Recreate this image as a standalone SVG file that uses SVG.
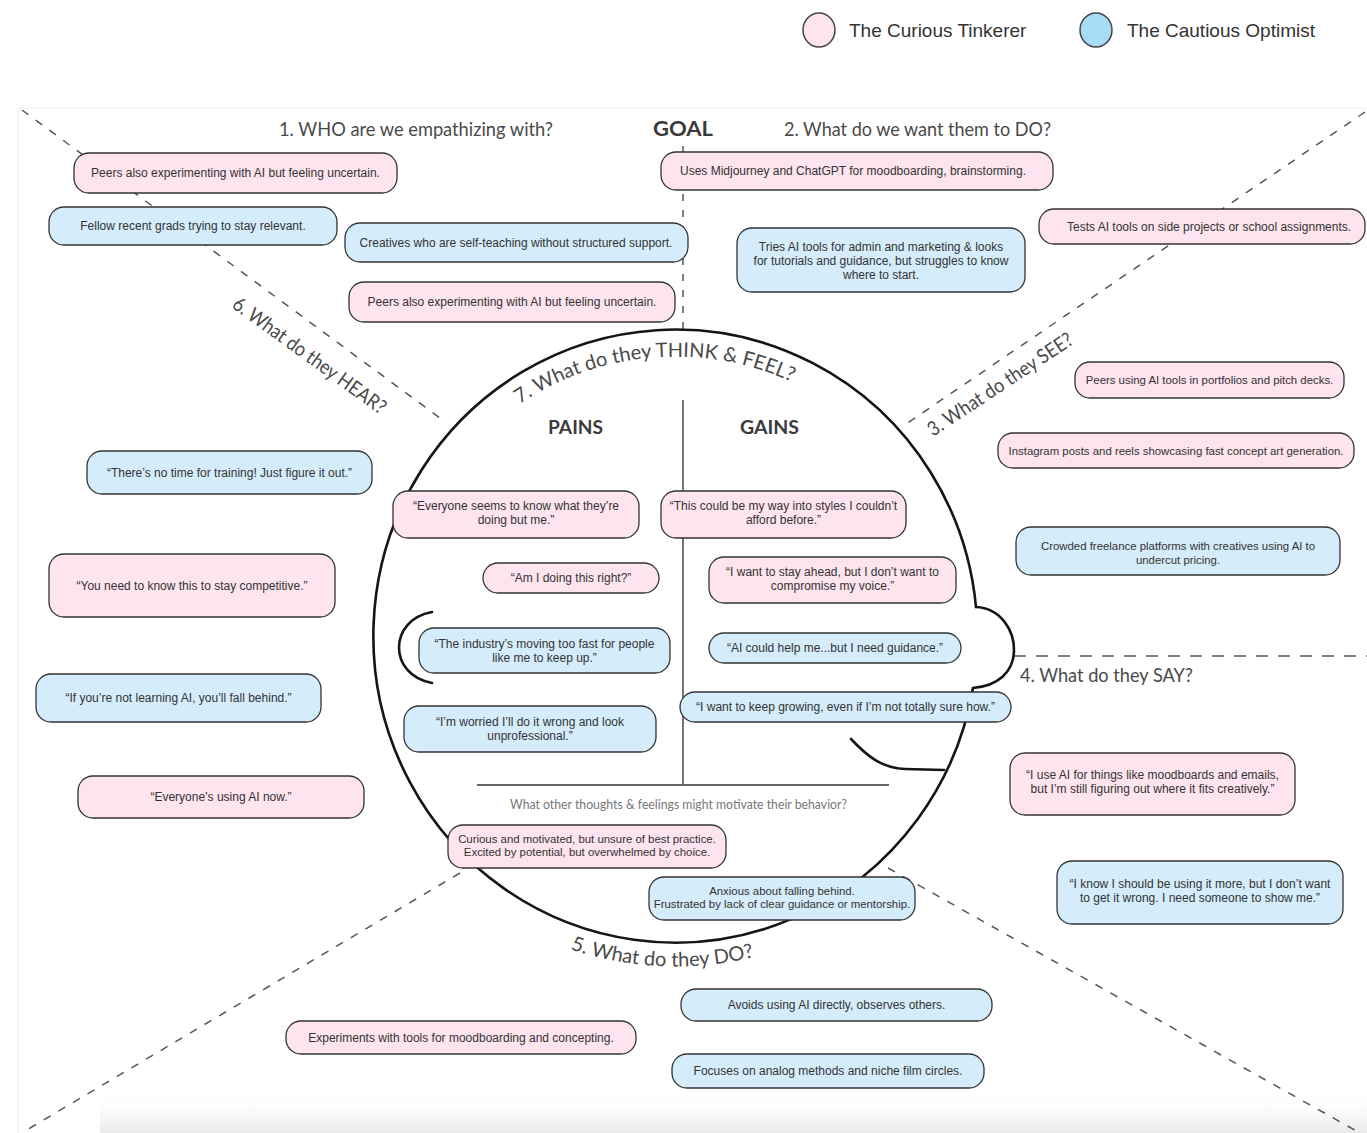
<svg xmlns="http://www.w3.org/2000/svg" width="1367" height="1133" viewBox="0 0 1367 1133">
  <defs>
    <style>
      .pink { fill: #fde4ee; stroke: #333; stroke-width: 1.3; }
      .blue { fill: #d5ecfa; stroke: #333; stroke-width: 1.3; }
      .bt { font-family: "Liberation Sans", Arial, sans-serif; font-size: 12px; fill: #333; text-anchor: middle; }
      .sm { font-size: 11.4px; }
      .hd { font-family: Lato, "Liberation Sans", sans-serif; font-size: 20px; fill: #4a4a4a; }
      .hb { font-family: Lato, "Liberation Sans", sans-serif; font-weight: bold; fill: #3a3a3a; }
      .dash { fill: none; stroke: #555; stroke-width: 1.5; stroke-dasharray: 8 9; }
      .outline { fill: none; stroke: #151515; stroke-width: 2.6; stroke-linecap: round; }
      .legend { font-family: "Liberation Sans", Arial, sans-serif; font-size: 19px; fill: #333; }
    </style>
    <linearGradient id="floorShade" x1="0" y1="0" x2="0" y2="1">
      <stop offset="0" stop-color="#ffffff" stop-opacity="0"/>
      <stop offset="1" stop-color="#e9e9e9" stop-opacity="1"/>
    </linearGradient>
    <path id="arcThink" d="M422.5,516.6 A280,280 0 0 1 905.8,477.3"/>
    <path id="arcDo" d="M383.1,789.4 A330,330 0 0 0 954.1,813.3"/>
  </defs>

  <!-- board -->
  <rect x="0" y="0" width="1367" height="1133" fill="#ffffff"/>
  <rect x="18" y="108" width="1365" height="1040" fill="none" stroke="#f4f4f4" stroke-width="1.5"/>
  <rect x="100" y="1092" width="1267" height="41" fill="url(#floorShade)"/>

  <!-- legend -->
  <g id="legend">
    <ellipse cx="819" cy="30" rx="16" ry="17" fill="#fde4ee" stroke="#444" stroke-width="1.5"/>
    <text class="legend" x="849" y="37">The Curious Tinkerer</text>
    <ellipse cx="1096" cy="30" rx="16" ry="17" fill="#a8dcf6" stroke="#444" stroke-width="1.5"/>
    <text class="legend" x="1127" y="37">The Cautious Optimist</text>
  </g>

  <!-- quadrant guides -->
  <g id="connectors">
    <line class="dash" x1="22" y1="110" x2="445" y2="421.7"/>
    <line class="dash" x1="1365" y1="112" x2="906" y2="424"/>
    <line class="dash" x1="1014" y1="656" x2="1367" y2="656" style="stroke-dasharray: 12 10"/>
    <line class="dash" x1="888" y1="868" x2="1360" y2="1133"/>
    <line class="dash" x1="460" y1="873" x2="25" y2="1131"/>
    <line class="dash" x1="683" y1="146" x2="683" y2="330" style="stroke-dasharray: 7 9"/>
  </g>

  <!-- head -->
  <g id="head">
    <path class="outline" d="M976,607 A302,306.5 0 1 0 973,688"/>
    <path class="outline" d="M976,607 C1000,608 1015,630 1014,652 C1013,672 998,686 973,688"/>
    <path class="outline" d="M851,739 C868,757 882,768 905,769 L944,770"/>
    <path class="outline" d="M432,612 C388,620 388,675 432,683"/>
    <line x1="683" y1="400" x2="683" y2="785" stroke="#777" stroke-width="2"/>
    <line x1="477" y1="785" x2="889" y2="785" stroke="#666" stroke-width="2"/>
  </g>

  <!-- section headings -->
  <g id="headings">
    <text class="hd" x="279" y="136" textLength="274" lengthAdjust="spacingAndGlyphs">1. WHO are we empathizing with?</text>
    <text class="hb" x="653" y="136" font-size="20" textLength="60" lengthAdjust="spacingAndGlyphs">GOAL</text>
    <text class="hd" x="784" y="136" textLength="267" lengthAdjust="spacingAndGlyphs">2. What do we want them to DO?</text>
    <text class="hd" transform="translate(933,437) rotate(-33.5)" textLength="170" lengthAdjust="spacingAndGlyphs">3. What do they SEE?</text>
    <text class="hd" x="1020" y="682" textLength="173" lengthAdjust="spacingAndGlyphs">4. What do they SAY?</text>
    <text class="hd"><textPath href="#arcDo" startOffset="50%" text-anchor="middle">5. What do they DO?</textPath></text>
    <text class="hd" transform="translate(231,307) rotate(35.9)" textLength="184" lengthAdjust="spacingAndGlyphs">6. What do they HEAR?</text>
    <text class="hd"><textPath href="#arcThink" startOffset="50%" text-anchor="middle">7. What do they THINK &amp; FEEL?</textPath></text>
    <text class="hb" x="548" y="434" font-size="19" textLength="55" lengthAdjust="spacingAndGlyphs">PAINS</text>
    <text class="hb" x="740" y="434" font-size="19" textLength="59" lengthAdjust="spacingAndGlyphs">GAINS</text>
    <text class="hd" x="510" y="809" style="font-size:13.5px; fill:#777" textLength="337" lengthAdjust="spacingAndGlyphs">What other thoughts &amp; feelings might motivate their behavior?</text>
  </g>

  <!-- 1. WHO -->
  <g id="who-peers-1"><rect class="pink" x="74" y="153" width="323" height="40" rx="15"/><text class="bt" x="235.5" y="177">Peers also experimenting with AI but feeling uncertain.</text></g>
  <g id="who-grads"><rect class="blue" x="49" y="207" width="288" height="38" rx="15"/><text class="bt" x="193" y="230">Fellow recent grads trying to stay relevant.</text></g>
  <g id="who-creatives"><rect class="blue" x="345" y="223" width="343" height="39" rx="15"/><text class="bt" x="516" y="246.5">Creatives who are self-teaching without structured support.</text></g>
  <g id="who-peers-2"><rect class="pink" x="349" y="282" width="326" height="40" rx="15"/><text class="bt" x="512" y="306">Peers also experimenting with AI but feeling uncertain.</text></g>

  <!-- 2. GOAL -->
  <g id="goal-midjourney"><rect class="pink" x="661" y="152" width="392" height="38" rx="15"/><text class="bt" x="853" y="175">Uses Midjourney and ChatGPT for moodboarding, brainstorming.</text></g>
  <g id="goal-tries"><rect class="blue" x="737" y="228" width="288" height="64" rx="15"/><text class="bt" x="881" y="251">Tries AI tools for admin and marketing &amp; looks<tspan x="881" dy="14">for tutorials and guidance, but struggles to know</tspan><tspan x="881" dy="14">where to start.</tspan></text></g>
  <g id="goal-tests"><rect class="pink" x="1039" y="209" width="326" height="35" rx="15"/><text class="bt" x="1067" y="230.5" style="text-anchor:start">Tests AI tools on side projects or school assignments.</text></g>

  <!-- 3. SEE -->
  <g id="see-peers"><rect class="pink" x="1075" y="362" width="269" height="36" rx="15"/><text class="bt sm" x="1209.5" y="384">Peers using AI tools in portfolios and pitch decks.</text></g>
  <g id="see-instagram"><rect class="pink" x="998" y="433" width="356" height="35" rx="15"/><text class="bt sm" x="1176" y="454.5">Instagram posts and reels showcasing fast concept art generation.</text></g>
  <g id="see-freelance"><rect class="blue" x="1016" y="527" width="324" height="48" rx="15"/><text class="bt sm" x="1178" y="550">Crowded freelance platforms with creatives using AI to<tspan x="1178" dy="14">undercut pricing.</tspan></text></g>

  <!-- 4. SAY -->
  <g id="say-moodboards"><rect class="pink" x="1010" y="753" width="285" height="62" rx="15"/><text class="bt" x="1152.5" y="779">“I use AI for things like moodboards and emails,<tspan x="1152.5" dy="14">but I’m still figuring out where it fits creatively.”</tspan></text></g>
  <g id="say-show-me"><rect class="blue" x="1057" y="861" width="286" height="63" rx="15"/><text class="bt" x="1200" y="888">“I know I should be using it more, but I don’t want<tspan x="1200" dy="14">to get it wrong. I need someone to show me.”</tspan></text></g>

  <!-- 5. DO -->
  <g id="do-avoids"><rect class="blue" x="681" y="989" width="311" height="32" rx="15"/><text class="bt" x="836.5" y="1009">Avoids using AI directly, observes others.</text></g>
  <g id="do-analog"><rect class="blue" x="672" y="1054" width="312" height="34" rx="15"/><text class="bt" x="828" y="1075">Focuses on analog methods and niche film circles.</text></g>
  <g id="do-experiments"><rect class="pink" x="286" y="1021" width="350" height="33" rx="15"/><text class="bt" x="461" y="1041.5">Experiments with tools for moodboarding and concepting.</text></g>

  <!-- 6. HEAR -->
  <g id="hear-no-time"><rect class="blue" x="87" y="451" width="285" height="43" rx="15"/><text class="bt" x="229.5" y="476.5">“There’s no time for training! Just figure it out.”</text></g>
  <g id="hear-competitive"><rect class="pink" x="49" y="554" width="286" height="63" rx="15"/><text class="bt" x="192" y="589.5">“You need to know this to stay competitive.”</text></g>
  <g id="hear-fall-behind"><rect class="blue" x="36" y="674" width="285" height="48" rx="15"/><text class="bt" x="178.5" y="702">“If you’re not learning AI, you’ll fall behind.”</text></g>
  <g id="hear-everyone"><rect class="pink" x="78" y="776" width="286" height="42" rx="15"/><text class="bt" x="221" y="801">“Everyone’s using AI now.”</text></g>

  <!-- 7. THINK & FEEL: pains -->
  <g id="pain-everyone"><rect class="pink" x="393" y="491" width="246" height="47" rx="15"/><text class="bt" x="516" y="510">“Everyone seems to know what they’re<tspan x="516" dy="14">doing but me.”</tspan></text></g>
  <g id="pain-right"><rect class="pink" x="483" y="563" width="176" height="30" rx="15"/><text class="bt" x="571" y="582">“Am I doing this right?”</text></g>
  <g id="pain-industry"><rect class="blue" x="419" y="628" width="251" height="45" rx="15"/><text class="bt" x="544.5" y="648">“The industry’s moving too fast for people<tspan x="544.5" dy="14">like me to keep up.”</tspan></text></g>
  <g id="pain-worried"><rect class="blue" x="404" y="706" width="252" height="46" rx="15"/><text class="bt" x="530" y="726">“I’m worried I’ll do it wrong and look<tspan x="530" dy="14">unprofessional.”</tspan></text></g>

  <!-- 7. THINK & FEEL: gains -->
  <g id="gain-styles"><rect class="pink" x="661" y="491" width="245" height="47" rx="15"/><text class="bt" x="783.5" y="510">“This could be my way into styles I couldn’t<tspan x="783.5" dy="14">afford before.”</tspan></text></g>
  <g id="gain-ahead"><rect class="pink" x="709" y="557" width="247" height="46" rx="15"/><text class="bt" x="832.5" y="576">“I want to stay ahead, but I don’t want to<tspan x="832.5" dy="14">compromise my voice.”</tspan></text></g>
  <g id="gain-guidance"><rect class="blue" x="709" y="633" width="252" height="30" rx="15"/><text class="bt" x="835" y="652">“AI could help me...but I need guidance.”</text></g>
  <g id="gain-growing"><rect class="blue" x="680" y="692" width="331" height="30" rx="15"/><text class="bt" x="845.5" y="711">“I want to keep growing, even if I’m not totally sure how.”</text></g>

  <!-- other thoughts & feelings -->
  <g id="feel-curious"><rect class="pink" x="448" y="825" width="278" height="43" rx="15"/><text class="bt sm" x="587" y="843">Curious and motivated, but unsure of best practice.<tspan x="587" dy="13">Excited by potential, but overwhelmed by choice.</tspan></text></g>
  <g id="feel-anxious"><rect class="blue" x="649" y="877" width="266" height="43" rx="15"/><text class="bt sm" x="782" y="895">Anxious about falling behind.<tspan x="782" dy="13">Frustrated by lack of clear guidance or mentorship.</tspan></text></g>
</svg>
